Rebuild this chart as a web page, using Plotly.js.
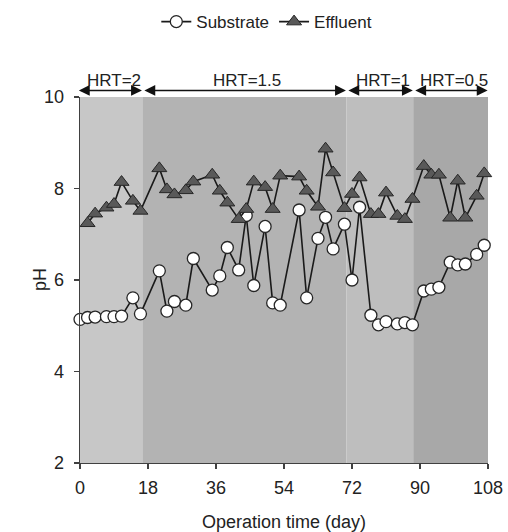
<!DOCTYPE html>
<html>
<head>
<meta charset="utf-8">
<script src="https://cdn.plot.ly/plotly-3.0.1.min.js"></script>
<style>html,body{margin:0;padding:0;background:#fff;}#chart{width:508px;height:532px;}</style>
</head>
<body>
<div id="chart"></div>
<script>
// ---- data ----
const substrateDays = [0,2,4,7,9,11,14,16,21,23,25,28,30,35,37,39,42,44,46,49,51,53,58,60,63,65,67,70,72,74,77,79,81,84,86,88,91,93,95,98,100,102,105,107];
const substratePH = [5.14,5.18,5.19,5.2,5.2,5.21,5.61,5.26,6.2,5.32,5.53,5.45,6.47,5.78,6.09,6.71,6.22,7.41,5.88,7.17,5.5,5.45,7.53,5.61,6.91,7.37,6.68,7.22,6.0,7.59,5.23,5.02,5.09,5.04,5.07,5.02,5.76,5.8,5.84,6.39,6.33,6.35,6.56,6.76];
const effluentDays = [2,4,7,9,11,14,16,21,23,25,28,30,35,37,39,42,44,46,49,51,53,58,60,63,65,67,70,72,74,77,79,81,84,86,88,91,93,95,98,100,102,105,107];
const effluentPH = [7.24,7.45,7.58,7.66,8.14,7.73,7.51,8.44,7.98,7.87,7.96,8.15,8.3,7.95,7.69,7.33,7.55,8.15,8.03,7.55,8.28,8.26,7.95,7.6,8.87,8.35,7.57,7.88,8.24,7.44,7.44,7.91,7.4,7.33,7.77,8.49,8.3,8.3,7.36,8.17,7.36,7.84,8.33];
const phaseLabels = ["HRT=2","HRT=1.5","HRT=1","HRT=0.5"];
const phaseStart = [0,16.5,70.5,88.2];
const phaseEnd = [16.5,70.5,88.2,108];
const xTicks = [0,18,36,54,72,90,108];
const yTicks = [2,4,6,8,10];
const xTitle = "Operation time (day)";
const yTitle = "pH";

// ---- styling ----
const FONT = "Liberation Sans, Arial, sans-serif";
const TXT = "#222222";
const phaseColors = ["#c7c7c7","#b3b3b3","#bebebe","#a8a8a8"];

const shapes = phaseStart.map((s,i)=>({
  type:"rect", xref:"x", yref:"paper", x0:s, x1:phaseEnd[i], y0:0, y1:1,
  fillcolor:phaseColors[i], line:{width:0}, layer:"below"
}));

const annotations = [];
phaseStart.forEach((s,i)=>{
  const e = phaseEnd[i];
  annotations.push({
    xref:"x", yref:"paper", x:e - 0.1, y:1.018,
    axref:"x", ayref:"pixel", ax:s + (i===0?-0.7:0.15), ay:0,
    showarrow:true, arrowside:"end+start", arrowhead:2, startarrowhead:2,
    arrowsize:1.45, startarrowsize:1.45, arrowwidth:1.5, arrowcolor:"#111",
    text:"", standoff:0, startstandoff:0
  });
  annotations.push({
    xref:"x", yref:"paper", x:(s+e)/2 + 0.8, y:1.046, yanchor:"middle",
    text:phaseLabels[i], showarrow:false,
    font:{family:FONT, size:17, color:TXT}
  });
});
// y-axis title placed as annotation (sits closer to the axis than a standoff allows)
annotations.push({
  xref:"paper", yref:"paper", x:-0.098, y:0.5, xanchor:"center", yanchor:"middle",
  text:yTitle, textangle:-90, showarrow:false,
  font:{family:FONT, size:18, color:TXT}
});

const traces = [
  {
    x:substrateDays, y:substratePH, name:"Substrate", type:"scatter", mode:"lines+markers",
    line:{color:"#1a1a1a", width:1.6},
    marker:{symbol:"circle", size:12, color:"#ffffff", line:{color:"#262626", width:1.3}},
    cliponaxis:false
  },
  {
    x:effluentDays, y:effluentPH, name:"Effluent", type:"scatter", mode:"lines+markers",
    line:{color:"#1a1a1a", width:1.6},
    marker:{symbol:"triangle-up", size:13, color:"#595959", line:{color:"#262626", width:1}},
    cliponaxis:false
  }
];

const layout = {
  width:508, height:532,
  margin:{l:80, r:20, t:97, b:69, autoexpand:false},
  paper_bgcolor:"#ffffff", plot_bgcolor:"#ffffff",
  font:{family:FONT, size:17, color:TXT},
  showlegend:true,
  legend:{orientation:"h", x:0.187, xanchor:"left", y:1.254, yanchor:"top",
          font:{family:FONT, size:17, color:TXT}, bgcolor:"rgba(0,0,0,0)", itemclick:false},
  xaxis:{
    range:[0,108], tickmode:"array", tickvals:xTicks, ticktext:xTicks.map(String),
    showgrid:false, zeroline:false, showline:true, linecolor:"#404040", linewidth:1.3,
    ticks:"outside", ticklen:5, tickcolor:"#404040", tickwidth:1.3,
    tickfont:{family:FONT, size:18, color:TXT}, ticklabelstandoff:3,
    title:{text:xTitle, font:{family:FONT, size:18, color:TXT}, standoff:19},
    automargin:false
  },
  yaxis:{
    range:[2,10], tickmode:"array", tickvals:yTicks, ticktext:yTicks.map(String),
    showgrid:false, zeroline:false, showline:true, linecolor:"#404040", linewidth:1.3,
    ticks:"outside", ticklen:5, tickcolor:"#404040", tickwidth:1.3,
    tickfont:{family:FONT, size:18, color:TXT}, ticklabelstandoff:6,
    automargin:false
  },
  shapes:shapes,
  annotations:annotations
};

Plotly.newPlot("chart", traces, layout, {staticPlot:true, displayModeBar:false});
</script>
</body>
</html>
